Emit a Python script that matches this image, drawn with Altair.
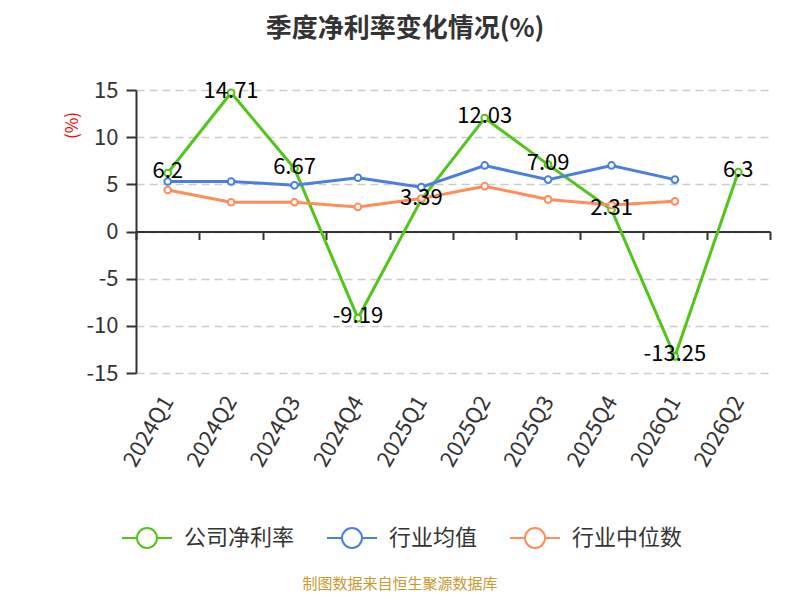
import pandas as pd
import altair as alt

# Quarters on the x axis
quarters = ["2024Q1", "2024Q2", "2024Q3", "2024Q4", "2025Q1",
            "2025Q2", "2025Q3", "2025Q4", "2026Q1", "2026Q2"]

# Series values (%)
company = [6.2, 14.71, 6.67, -9.19, 3.39, 12.03, 7.09, 2.31, -13.25, 6.3]
industry_avg = [5.3, 5.3, 4.9, 5.7, 4.7, 7.0, 5.5, 7.0, 5.5]
industry_median = [4.4, 3.1, 3.1, 2.6, 3.5, 4.8, 3.4, 2.8, 3.2]

series_names = ["公司净利率", "行业均值", "行业中位数"]
series_colors = ["#52c41a", "#4a7fe0", "#ff8c5a"]

FONT = "Noto Sans CJK SC"
W, H = 634, 283


def to_long():
    rows = []
    for name, vals in zip(series_names, [company, industry_avg, industry_median]):
        for q, v in zip(quarters, vals):
            rows.append({"quarter": q, "series": name, "value": v, "label": str(v)})
    return pd.DataFrame(rows)


df = to_long()
color_scale = alt.Scale(domain=series_names, range=series_colors)

x_enc = alt.X(
    "quarter:N",
    sort=quarters,
    scale=alt.Scale(paddingInner=0, paddingOuter=0),
    axis=alt.Axis(
        title=None,
        offset=-H / 2,
        tickBand="extent",
        tickSize=8,
        tickColor="#333333",
        tickWidth=2,
        domainColor="#333333",
        domainWidth=2,
        labelAngle=-60,
        labelPadding=158,
        labelFontSize=22,
        labelColor="#333333",
        labelFont=FONT,
        grid=False,
    ),
)
y_enc = alt.Y(
    "value:Q",
    scale=alt.Scale(domain=[-15, 15], nice=False, zero=False),
    axis=alt.Axis(
        title="(%)",
        titleColor="red",
        titleFontSize=17,
        titleFontWeight="normal",
        titleFont=FONT,
        titleX=-64,
        titleY=35,
        titleAlign="center",
        titleBaseline="middle",
        values=[-15, -10, -5, 0, 5, 10, 15],
        labelExpr="toString(datum.value)",
        tickSize=10,
        tickColor="#333333",
        tickWidth=2,
        domainColor="#333333",
        domainWidth=2,
        labelPadding=8,
        labelFontSize=22,
        labelColor="#333333",
        labelFont=FONT,
        grid=True,
        gridColor="#cccccc",
        gridDash=[8, 5],
        gridWidth=1.5,
    ),
)

legend_path = ("M-1,0L-0.4,0M0.4,0L1,0M0.4,0A0.4,0.4,0,1,1,-0.4,0"
               "A0.4,0.4,0,1,1,0.4,0Z")

lines = (
    alt.Chart(df)
    .mark_line(strokeWidth=3)
    .encode(
        x=x_enc,
        y=y_enc,
        color=alt.Color(
            "series:N",
            scale=color_scale,
            legend=alt.Legend(
                title=None,
                orient="none",
                direction="horizontal",
                legendX=-15,
                legendY=422,
                symbolType=legend_path,
                symbolSize=2500,
                symbolStrokeWidth=2,
                symbolFillColor="white",
                labelFontSize=22,
                labelFont=FONT,
                labelColor="#333333",
                labelOffset=11,
                columnPadding=28,
                padding=0,
            ),
        ),
    )
)

points = (
    alt.Chart(df)
    .mark_point(filled=True, fill="white", strokeWidth=2, size=45, opacity=1)
    .encode(
        x=x_enc,
        y=y_enc,
        stroke=alt.Stroke("series:N", scale=color_scale, legend=None),
    )
)

labels = (
    alt.Chart(df)
    .transform_filter(alt.datum.series == "公司净利率")
    .mark_text(fontSize=22, font=FONT, color="black", baseline="middle", dy=-2)
    .encode(x=x_enc, y=y_enc, text="label:N")
)

source = (
    alt.Chart(pd.DataFrame({"t": ["制图数据来自恒生聚源数据库"]}))
    .mark_text(fontSize=15, font=FONT, color="#c99a2e", baseline="middle")
    .encode(text="t:N", x=alt.value(264), y=alt.value(494))
)

chart = (
    alt.layer(lines, points, labels, source)
    .properties(
        width=W,
        height=H,
        autosize=alt.AutoSizeParams(type="none"),
        padding={"left": 128, "top": 82, "right": 22, "bottom": 219},
        title=alt.Title(
            "季度净利率变化情况(%)",
            fontSize=26,
            font=FONT,
            fontWeight="bold",
            color="#333333",
            anchor="middle",
            dx=-48,
            dy=-33,
        ),
    )
    .configure(background="white")
    .configure_view(strokeWidth=0)
)

chart.save("out.html", embed_options={"renderer": "svg", "actions": False})
